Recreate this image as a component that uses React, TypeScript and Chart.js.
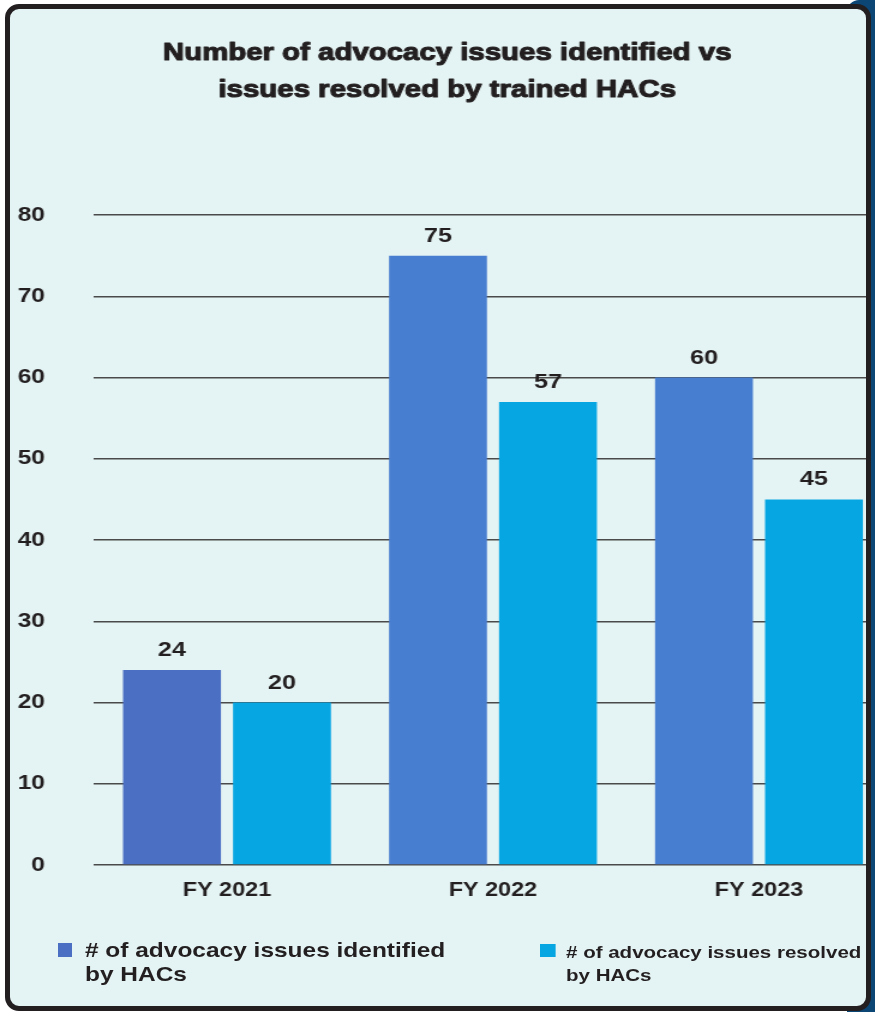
import React, { useEffect, useRef } from 'react';
import { Chart, registerables } from 'chart.js';

Chart.register(...registerables);

const categories = ['FY 2021', 'FY 2022', 'FY 2023'];
const identifiedValues = [24, 75, 60];
const resolvedValues = [20, 57, 45];
const identifiedLegend = ['# of advocacy issues identified', 'by HACs'];
const resolvedLegend = ['# of advocacy issues resolved', 'by HACs'];
const titleLines = ['Number of advocacy issues identified vs', 'issues resolved by trained HACs'];
const yMin = 0;
const yMax = 80;
const yStep = 10;

const identifiedColors = ['#4b6fc3', '#487ed0', '#487ed0'];
const resolvedColor = '#06a6e3';
const TEXT = '#231f20';
const FONT = "'Liberation Sans', Arial, Helvetica, sans-serif";
const STRETCH = 1.2;
const CW = 750;
const CH = 1012;
const TITLE_SIZE = 24.5;
const TITLE_LH = 37;
const TITLE_PAD_TOP = 35;
const TITLE_PAD_BOTTOM = 215 - TITLE_PAD_TOP - 2 * TITLE_LH;

const valueLabels = {
  id: 'valueLabels',
  afterDatasetsDraw(chart: any) {
    const ctx = chart.ctx;
    ctx.save();
    ctx.font = `bold 21px ${FONT}`;
    ctx.fillStyle = TEXT;
    ctx.textAlign = 'center';
    ctx.textBaseline = 'alphabetic';
    chart.data.datasets.forEach((ds: any, di: number) => {
      const meta = chart.getDatasetMeta(di);
      meta.data.forEach((el: any, i: number) => {
        ctx.fillText(String(ds.data[i]), el.x, el.y - 14);
      });
    });
    ctx.restore();
  },
};

// thickens the title glyphs to imitate the heavy display face
const heavyTitle = {
  id: 'heavyTitle',
  afterDraw(chart: any) {
    const tb = chart.titleBlock;
    if (!tb) return;
    const ctx = chart.ctx;
    ctx.save();
    ctx.font = `bold ${TITLE_SIZE}px ${FONT}`;
    ctx.strokeStyle = TEXT;
    ctx.lineWidth = 1.1;
    ctx.lineJoin = 'round';
    ctx.textAlign = 'center';
    ctx.textBaseline = 'middle';
    const cx = tb.left + tb.width / 2;
    titleLines.forEach((line, i) => {
      ctx.strokeText(line, cx, tb.top + TITLE_PAD_TOP + TITLE_LH / 2 + i * TITLE_LH);
    });
    ctx.restore();
  },
};

export default function App() {
  const ref = useRef<HTMLCanvasElement | null>(null);

  useEffect(() => {
    document.body.style.margin = '0';
    const canvas = ref.current;
    if (!canvas) return;
    const chart = new Chart(canvas, {
      type: 'bar',
      data: {
        labels: categories,
        datasets: [
          {
            label: identifiedLegend.join(' '),
            data: identifiedValues,
            backgroundColor: identifiedColors,
            barPercentage: 0.89,
            categoryPercentage: 0.827,
          },
          {
            label: resolvedLegend.join(' '),
            data: resolvedValues,
            backgroundColor: resolvedColor,
            barPercentage: 0.89,
            categoryPercentage: 0.827,
          },
        ],
      },
      options: {
        responsive: false,
        animation: false,
        devicePixelRatio: 1,
        layout: { padding: { left: 2, right: 6.7, top: 0, bottom: 107 } },
        plugins: {
          legend: { display: false },
          tooltip: { enabled: false },
          title: {
            display: true,
            text: titleLines,
            color: TEXT,
            font: { family: FONT, size: TITLE_SIZE, weight: 'bold', lineHeight: `${TITLE_LH}px` },
            padding: { top: TITLE_PAD_TOP, bottom: TITLE_PAD_BOTTOM },
          },
        },
        scales: {
          x: {
            grid: { display: false, drawTicks: false },
            border: { display: false },
            ticks: {
              color: TEXT,
              padding: 13.5,
              font: { family: FONT, size: 19.5, weight: 'bold' },
            },
            afterFit: (s: any) => {
              s.height = 40;
            },
          },
          y: {
            min: yMin,
            max: yMax,
            grid: { color: '#4a4a4a', lineWidth: 1.5, drawTicks: false },
            border: { display: false },
            ticks: {
              stepSize: yStep,
              color: TEXT,
              padding: 40.8,
              font: { family: FONT, size: 20.5, weight: 'bold' },
            },
            afterFit: (s: any) => {
              s.width = 76.3;
            },
          },
        },
      },
      plugins: [valueLabels, heavyTitle],
    });
    return () => chart.destroy();
  }, []);

  const legendText = (lines: string[], left: number, top: number, size: number, lh: number) => (
    <div
      style={{
        position: 'absolute',
        left,
        top,
        fontFamily: FONT,
        fontWeight: 'bold',
        fontSize: size,
        lineHeight: `${lh}px`,
        color: TEXT,
        whiteSpace: 'nowrap',
      }}
    >
      {lines[0]}
      <br />
      {lines[1]}
    </div>
  );

  return (
    <div style={{ position: 'relative', width: 875, height: 1012, background: '#ffffff', overflow: 'hidden' }}>
      <div
        style={{
          position: 'absolute',
          left: 847,
          top: 0,
          width: 28,
          height: 1012,
          background: '#0c4675',
          borderTopLeftRadius: 12,
        }}
      />
      <div
        style={{
          position: 'absolute',
          left: 5,
          top: 4,
          width: 866,
          height: 1007,
          boxSizing: 'border-box',
          border: '5px solid #231f20',
          borderRadius: 14,
          background: '#e4f3f3',
        }}
      />
      <div style={{ position: 'absolute', left: 0, top: 0, width: 866, height: 1012, overflow: 'hidden' }}>
        <div
          style={{
            position: 'absolute',
            left: 0,
            top: 0,
            width: CW,
            height: CH,
            transform: `scaleX(${STRETCH})`,
            transformOrigin: '0 0',
          }}
        >
          <canvas ref={ref} width={CW} height={CH} style={{ display: 'block' }} />
          <div style={{ position: 'absolute', left: 47.5, top: 943, width: 12.5, height: 14, background: identifiedColors[0] }} />
          {legendText(identifiedLegend, 70.8, 938, 20.4, 24)}
          <div style={{ position: 'absolute', left: 450, top: 944, width: 13.3, height: 13, background: resolvedColor }} />
          {legendText(resolvedLegend, 471.7, 940.8, 17.1, 23)}
        </div>
      </div>
    </div>
  );
}
